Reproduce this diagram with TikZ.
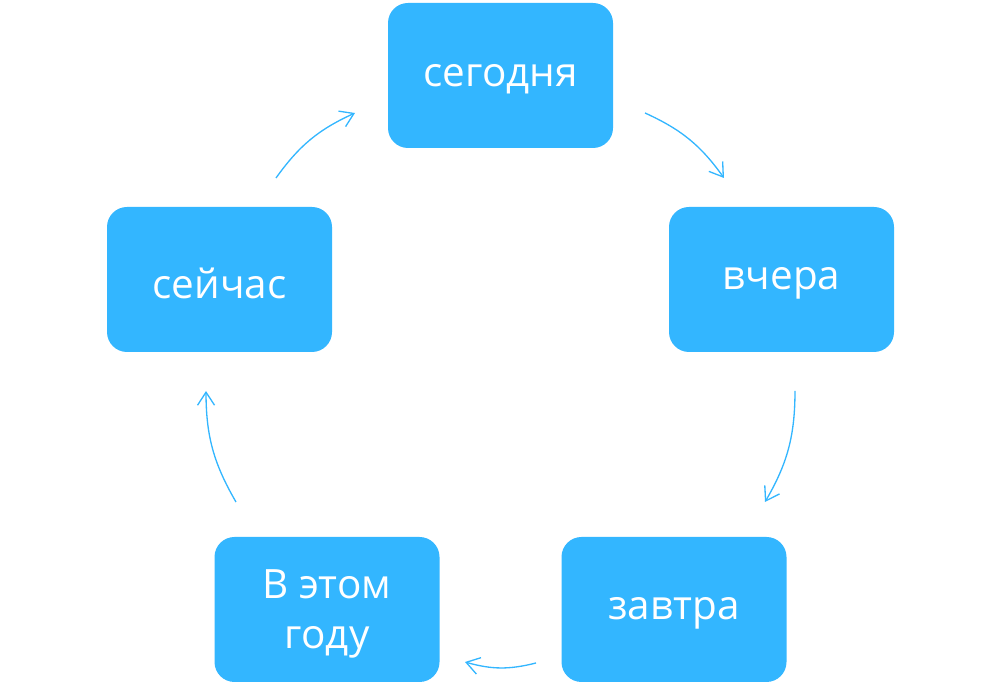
\documentclass[tikz,border=0pt]{standalone}
\usepackage{fontspec}
\setmainfont{Open Sans}
\usepackage{tikz}
\usetikzlibrary{arrows.meta,positioning}
\definecolor{tilesky}{RGB}{51,182,255}

\tikzset{
    daybox/.style={fill=tilesky, rounded corners=0.4cm, minimum width=4.5cm,
        minimum height=2.9cm, align=center, text=white,
        font=\fontsize{23}{28.5}\selectfont},
    daytext/.style={yshift=-0.08cm, align=center, text=white,
        font=\fontsize{23}{28.5}\selectfont},
    cyclearrow/.style={tilesky, line width=0.75pt,
        -{Straight Barb[length=2.6mm, width=3.4mm]}, bend left=15}
}

\begin{document}
\begin{tikzpicture}[scale=1.0]
    \useasboundingbox (0,0) rectangle (20,13.86);

    % Boxes
    \node[daybox] (today) at (10.01,12.35) {};
    \node[daybox] (yesterday) at (15.63,8.27) {};
    \node[daybox] (tomorrow) at (13.48,1.67) {};
    \node[daybox] (thisyear) at (6.54,1.67) {};
    \node[daybox] (now) at (4.39,8.27) {};

    % Labels
    \node[daytext] (todaylabel) at (today) {сегодня};
    \node[daytext] (yesterdaylabel) at (yesterday) {вчера};
    \node[daytext] (tomorrowlabel) at (tomorrow) {завтра};
    \node[daytext] (thisyearlabel) at (thisyear) {В этом\\году};
    \node[daytext] (nowlabel) at (now) {сейчас};

    % Arrow ends
    \coordinate (nowout) at (5.52,10.30);
    \coordinate (todayin) at (7.10,11.60);
    \coordinate (todayout) at (12.90,11.60);
    \coordinate (yesterdayin) at (14.48,10.30);
    \coordinate (yesterdayout) at (15.90,6.04);
    \coordinate (tomorrowin) at (15.30,3.82);
    \coordinate (tomorrowout) at (10.72,0.60);
    \coordinate (thisyearin) at (9.30,0.62);
    \coordinate (thisyearout) at (4.72,3.82);
    \coordinate (nowin) at (4.12,6.04);

    % Cycle
    \draw[cyclearrow] (nowout) to (todayin);
    \draw[cyclearrow] (todayout) to (yesterdayin);
    \draw[cyclearrow] (yesterdayout) to (tomorrowin);
    \draw[cyclearrow] (tomorrowout) to (thisyearin);
    \draw[cyclearrow] (thisyearout) to (nowin);
\end{tikzpicture}
\end{document}
